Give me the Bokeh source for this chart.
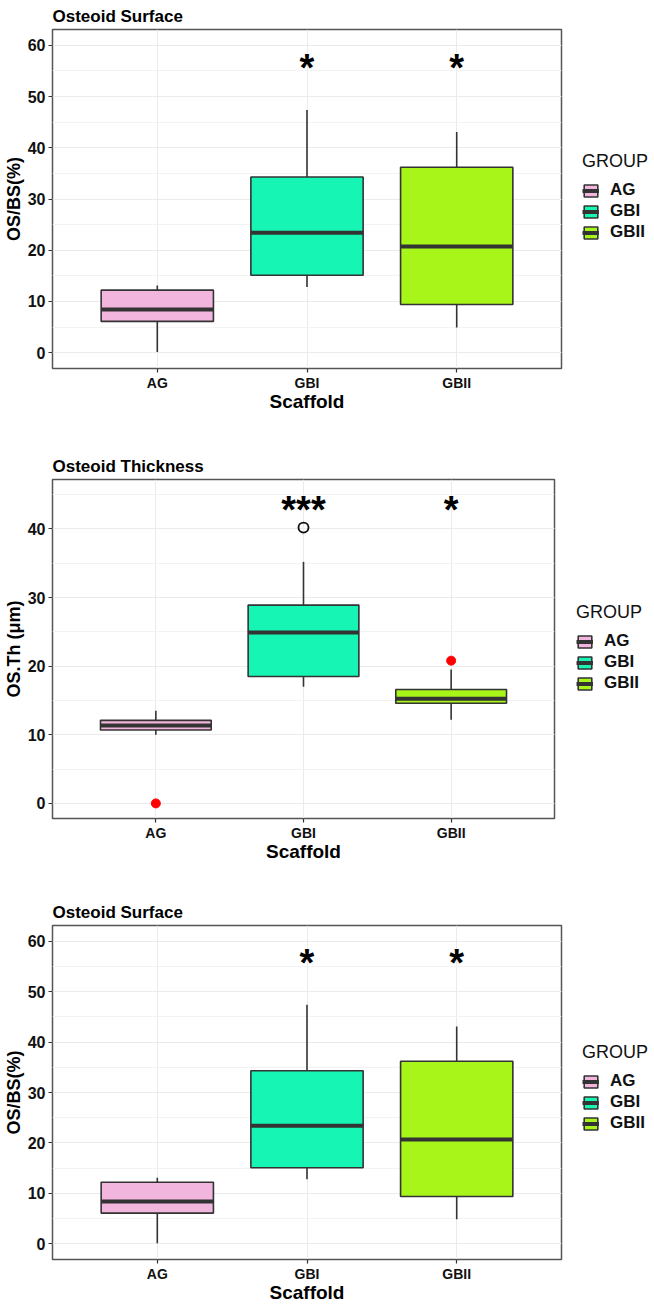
from bokeh.plotting import figure
from bokeh.layouts import column, row
from bokeh.models import (ColumnDataSource, FactorRange, Range1d, Legend, LegendItem,
                          SingleIntervalTicker)
from bokeh.transform import dodge
from bokeh.core.properties import value
from bokeh.embed import file_html
from bokeh.resources import INLINE

# ---------------- data ----------------
groups = ["AG", "GBI", "GBII"]
group_colors = ["#F2B5DD", "#17F5B4", "#A8F51A"]

# Osteoid Surface, OS/BS(%)
os_low = [0.1, 12.8, 4.9]
os_q1 = [6.1, 15.1, 9.4]
os_med = [8.4, 23.4, 20.7]
os_q3 = [12.2, 34.3, 36.2]
os_high = [13.1, 47.4, 43.1]
os_sig = ["", "*", "*"]
os_sig_y = [56.0, 56.0, 56.0]

# Osteoid Thickness, OS.Th (um)
th_low = [10.0, 17.0, 12.2]
th_q1 = [10.7, 18.5, 14.6]
th_med = [11.35, 24.9, 15.25]
th_q3 = [12.1, 28.9, 16.6]
th_high = [13.5, 35.2, 19.5]
th_outlier_x = ["GBI"]
th_outlier_y = [40.2]
th_red_x = ["AG", "GBII"]
th_red_y = [0.0, 20.8]
th_sig = ["", "***", "*"]
th_sig_y = [43.0, 43.0, 43.0]

FONT = "Liberation Sans"
DARK = "#333333"
TOTAL_W = 654
NAN = float("nan")


def panel(title, ylabel, yr, lo, q1, med, q3, hi, sig, sig_y, height, borders,
          main_w, legend_xy, outliers=None, reds=None):
    mt, mb, ml, mr = borders
    src = ColumnDataSource(dict(g=groups, lo=lo, q1=q1, med=med, q3=q3, hi=hi,
                                color=group_colors, sig=sig, sig_y=sig_y))
    p = figure(x_range=FactorRange(*groups, range_padding=0.2, range_padding_units="absolute"),
               y_range=Range1d(*yr), width=main_w, height=height,
               output_backend="svg", toolbar_location=None,
               min_border_top=mt, min_border_bottom=mb, min_border_left=ml, min_border_right=mr,
               background_fill_color="white", border_fill_color="white")
    p.title.text = title
    p.title.text_font = FONT
    p.title.text_font_size = "17px"
    p.title.text_font_style = "bold"
    p.title.text_color = "#000000"
    p.title.standoff = 8
    p.title.offset = 0

    p.outline_line_color = "#555555"
    p.outline_line_width = 1.5

    p.yaxis.ticker = SingleIntervalTicker(interval=10, num_minor_ticks=2)
    p.xgrid.grid_line_color = "#EBEBEB"
    p.xgrid.grid_line_width = 1
    p.ygrid.grid_line_color = "#EBEBEB"
    p.ygrid.grid_line_width = 1.2
    p.ygrid.minor_grid_line_color = "#F3F3F3"
    p.ygrid.minor_grid_line_width = 1

    for ax in (p.xaxis[0], p.yaxis[0]):
        ax.axis_line_color = None
        ax.major_tick_line_color = DARK
        ax.major_tick_line_width = 1.2
        ax.major_tick_out = 4
        ax.major_tick_in = 0
        ax.minor_tick_line_color = None
        ax.major_label_text_font = FONT
        ax.major_label_text_font_style = "bold"
        ax.major_label_text_color = "#111111"
        ax.axis_label_text_font = FONT
        ax.axis_label_text_font_style = "bold"
        ax.axis_label_text_color = "#000000"
    p.xaxis.major_label_standoff = 2
    p.yaxis.major_label_standoff = 3
    p.xaxis.axis_label_standoff = -3
    p.yaxis.axis_label_standoff = 1
    p.xaxis.major_label_text_font_size = "14px"
    p.yaxis.major_label_text_font_size = "16px"
    p.xaxis.axis_label_text_font_size = "19px"
    p.yaxis.axis_label_text_font_size = "18px"
    p.xaxis.axis_label = "Scaffold"
    p.yaxis.axis_label = ylabel

    # whiskers
    p.segment(x0="g", y0="q3", x1="g", y1="hi", source=src, line_color=DARK, line_width=1.6)
    p.segment(x0="g", y0="lo", x1="g", y1="q1", source=src, line_color=DARK, line_width=1.6)
    # boxes
    p.vbar(x="g", width=0.75, bottom="q1", top="q3", source=src,
           fill_color="color", line_color=DARK, line_width=1.6)
    # medians
    p.segment(x0=dodge("g", -0.375, range=p.x_range), y0="med",
              x1=dodge("g", 0.375, range=p.x_range), y1="med",
              source=src, line_color=DARK, line_width=4)

    if outliers is not None:
        p.scatter(x=outliers[0], y=outliers[1], size=10, fill_color=None,
                  line_color="#111111", line_width=1.8)
    if reds is not None:
        p.scatter(x=reds[0], y=reds[1], size=9, fill_color="#FF0000", line_color="#FF0000")

    # significance marks
    p.text(x="g", y="sig_y", text="sig", source=src, text_font=value(FONT),
           text_font_size=value("38px"), text_font_style="bold", text_align="center",
           text_baseline="middle", text_color="#000000", y_offset=2)

    # legend drawn in a narrow side figure (key glyphs only, no marks of their own)
    key_src = ColumnDataSource(dict(g=groups, color=group_colors, y=[NAN] * len(groups)))
    lf = figure(width=TOTAL_W - main_w, height=height, x_range=FactorRange(*groups),
                y_range=Range1d(0, 1), output_backend="svg", toolbar_location=None,
                min_border_top=mt, min_border_bottom=mb, min_border_left=0, min_border_right=0,
                x_axis_location=None, y_axis_location=None, outline_line_color=None)
    lf.grid.visible = False
    kbox = lf.vbar(x="g", width=0.75, bottom="y", top="y", source=key_src,
                   fill_color="color", line_color=DARK, line_width=1.6)
    kmed = lf.segment(x0="g", y0="y", x1="g", y1="y", source=key_src,
                      line_color=DARK, line_width=4)
    items = [LegendItem(label=value(g), renderers=[kbox, kmed], index=i)
             for i, g in enumerate(groups)]
    leg = Legend(items=items, location=legend_xy, title="GROUP",
                 title_text_font=FONT, title_text_font_size="18px",
                 title_text_font_style="normal", title_text_color="#111111",
                 title_standoff=8,
                 label_text_font=FONT, label_text_font_size="17px",
                 label_text_font_style="bold", label_text_color="#111111",
                 glyph_width=17, glyph_height=15, label_height=20, spacing=1,
                 label_standoff=11, padding=0, margin=0,
                 border_line_color=None, background_fill_alpha=0)
    lf.add_layout(leg)
    return row(p, lf, spacing=0)


r1 = panel("Osteoid Surface", "OS/BS(%)", (-3.1, 63.1),
           os_low, os_q1, os_med, os_q3, os_high, os_sig, os_sig_y,
           450, (28, 82, 50, 2), 563, (19, 126))
r2 = panel("Osteoid Thickness", "OS.Th (\u03bcm)", (-2.2, 47.2),
           th_low, th_q1, th_med, th_q3, th_high, th_sig, th_sig_y,
           446, (28, 78, 52, 2), 556, (20, 125),
           outliers=(th_outlier_x, th_outlier_y), reds=(th_red_x, th_red_y))
r3 = panel("Osteoid Surface", "OS/BS(%)", (-3.1, 63.1),
           os_low, os_q1, os_med, os_q3, os_high, os_sig, os_sig_y,
           409, (28, 44, 50, 2), 563, (19, 126))

layout = column(r1, r2, r3, spacing=0)
open("out.html", "w").write(file_html(layout, INLINE))
